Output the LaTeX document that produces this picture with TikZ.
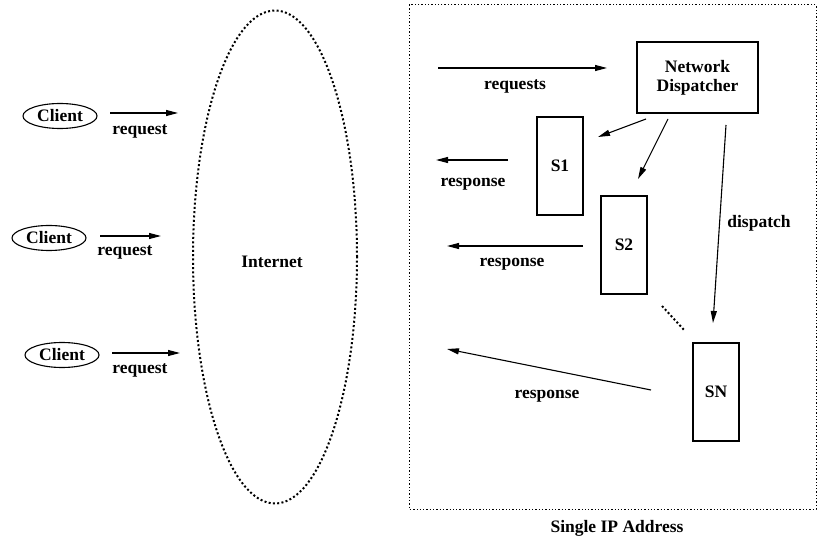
\documentclass[tikz,border=0pt]{standalone}
\usepackage{fontspec}
\setmainfont{Liberation Serif}
\usetikzlibrary{shapes.geometric,arrows.meta}
\begin{document}
\begin{tikzpicture}[x=1pt,y=-1pt,
  every node/.style={font=\fontsize{17.5}{19}\selectfont\bfseries, inner sep=0pt},
  lbl/.style={},
  client/.style={draw, ellipse, line width=1.1pt, minimum width=74pt, minimum height=25pt},
  srv/.style={draw, rectangle, line width=1.1pt},
  arr/.style={line width=1.1pt, -{Triangle[length=12pt,width=6pt]}},
  plain/.style={line width=1.1pt}]
\useasboundingbox (0,0) rectangle (817,537);

% Clients
\node[client] (c1) at (60,116) {Client};
\node[client] (c2) at (49,238) {Client};
\node[client] (c3) at (62,355) {Client};
\coordinate (c1s) at (110,113); \coordinate (c1e) at (178,113);
\coordinate (c2s) at (100,236); \coordinate (c2e) at (161,236);
\coordinate (c3s) at (112,353); \coordinate (c3e) at (180,353);
\draw[arr] (c1s) -- (c1e);
\draw[arr] (c2s) -- (c2e);
\draw[arr] (c3s) -- (c3e);
\node[lbl] (r1) at (140,131) {request};
\node[lbl] (r2) at (125,252) {request};
\node[lbl] (r3) at (140,370) {request};

% Internet
\node[draw, ellipse, line width=2pt, dash pattern=on 2pt off 2.3pt,
  minimum width=164pt, minimum height=493pt] (inet) at (275,257) {};
\node (inetl) at (272,262) {Internet};

% Dotted box
\draw[line width=1pt, dash pattern=on 1.3pt off 2pt] (409,5) rectangle (816,509);
\node (sip) at (617,528) {Single IP Address};

% Dispatcher and servers
\node[srv, minimum width=121pt, minimum height=71pt, align=center] (nd) at (697.5,77.5) {Network\\Dispatcher};
\node[srv, minimum width=46pt, minimum height=98pt] (s1) at (560,166) {S1};
\node[srv, minimum width=46pt, minimum height=98pt] (s2) at (624,245) {S2};
\node[srv, minimum width=46pt, minimum height=98pt] (sn) at (716,392) {SN};

% requests
\coordinate (rqs) at (438,68); \coordinate (rqe) at (607,68);
\draw[arr] (rqs) -- (rqe);
\node (rql) at (515,86) {requests};

% dispatcher arrows
\coordinate (d1s) at (646,119); \coordinate (d1e) at (598,137);
\coordinate (d2s) at (668,119); \coordinate (d2e) at (638,179);
\coordinate (d3s) at (726,125); \coordinate (d3e) at (713,323);
\draw[arr] (d1s) -- (d1e);
\draw[arr] (d2s) -- (d2e);
\draw[arr] (d3s) -- (d3e);
\node (dl) at (759,223) {dispatch};

% responses
\coordinate (p1s) at (508,160); \coordinate (p1e) at (436,160);
\coordinate (p2s) at (583,246); \coordinate (p2e) at (447,246);
\coordinate (p3s) at (651,390); \coordinate (p3e) at (447,349);
\draw[arr] (p1s) -- (p1e);
\draw[arr] (p2s) -- (p2e);
\draw[arr] (p3s) -- (p3e);
\node (pl1) at (473,184) {response};
\node (pl2) at (512,264) {response};
\node (pl3) at (547,396) {response};

% ellipsis dots
\coordinate (es) at (662,306); \coordinate (ee) at (685,331);
\draw[line width=2pt, dash pattern=on 2pt off 2.3pt] (es) -- (ee);
\end{tikzpicture}
\end{document}
